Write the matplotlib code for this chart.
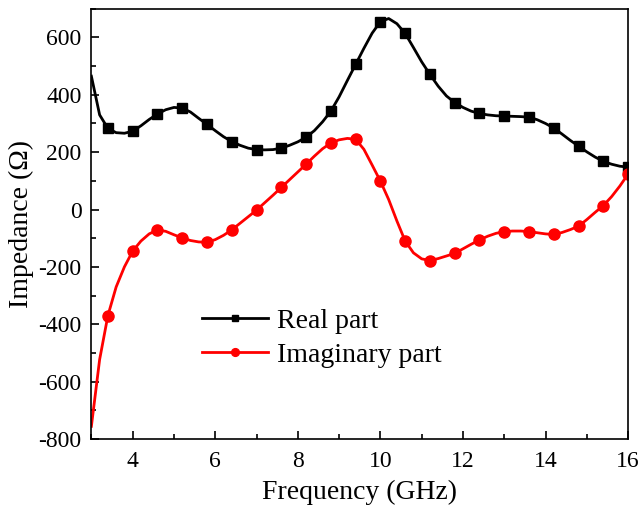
import matplotlib.pyplot as plt
import numpy as np

plt.rcParams['font.family'] = ['Liberation Serif', 'DejaVu Serif']
plt.rcParams['axes.unicode_minus'] = False

# frequency sweep, 0.2 GHz step from 3 to 16 GHz
freq = np.linspace(3.0, 16.0, 66)

real_part = [465, 330, 283, 268, 266, 273, 292, 314, 333, 348,
             356, 354, 340, 318, 297, 275, 254, 237, 224, 214,
             209, 208, 209, 214, 224, 236, 252, 275, 306, 343,
             393, 450, 506, 562, 615, 655, 666, 648, 614, 565,
             515, 471, 430, 396, 373, 356, 343, 335, 330, 327,
             326, 325, 324, 322, 313, 300, 284, 263, 241, 221,
             201, 183, 168, 158, 151, 148]

imag_part = [-756, -523, -370, -270, -200, -145, -110, -85, -71, -76,
             -88, -99, -108, -113, -114, -105, -90, -71, -48, -25,
             -2, 24, 50, 77, 104, 131, 158, 186, 212, 232,
             243, 248, 245, 210, 155, 99, 35, -40, -110, -151,
             -172, -178, -171, -162, -153, -137, -121, -106, -93, -83,
             -77, -75, -75, -77, -81, -85, -87, -80, -70, -58,
             -35, -10, 14, 45, 82, 124]

marks = slice(2, None, 3)

fig = plt.figure(figsize=(6.39, 5.17), dpi=100)
ax = fig.add_axes([0.143, 0.151, 0.840, 0.832])

ax.plot(freq, real_part, color='black', linewidth=2, marker='s', markersize=7,
        markevery=marks, label='Real part')
ax.plot(freq, imag_part, color='red', linewidth=2, marker='o', markersize=8,
        markevery=marks, label='Imaginary part')

ax.set_xlim(3, 16)
ax.set_ylim(-800, 700)
ax.set_xticks([4, 6, 8, 10, 12, 14, 16])
ax.set_xticks(np.arange(3, 17, 1), minor=True)
ax.set_yticks(np.arange(-800, 601, 200))
ax.set_yticks(np.arange(-800, 701, 100), minor=True)

ax.tick_params(axis='both', which='both', direction='in', top=False, right=False,
               labelsize=17)
ax.tick_params(axis='both', which='major', length=6, width=1.2)
ax.tick_params(axis='both', which='minor', length=3.5, width=1.2)
ax.tick_params(axis='x', which='major', pad=9)
ax.tick_params(axis='y', which='major', pad=7)
for s in ax.spines.values():
    s.set_linewidth(1.2)

ax.set_xlabel('Frequency (GHz)', fontsize=20, labelpad=5)
ax.set_ylabel('Impedance (Ω)', fontsize=20, labelpad=3)

ax.legend(loc='upper left', bbox_to_anchor=(0.2, 0.31), borderaxespad=0,
          borderpad=0.1, frameon=False, fontsize=20, handlelength=2.4,
          handletextpad=0.3, labelspacing=0.3, numpoints=1, markerscale=0.7)

plt.savefig('out.png', dpi=100)
